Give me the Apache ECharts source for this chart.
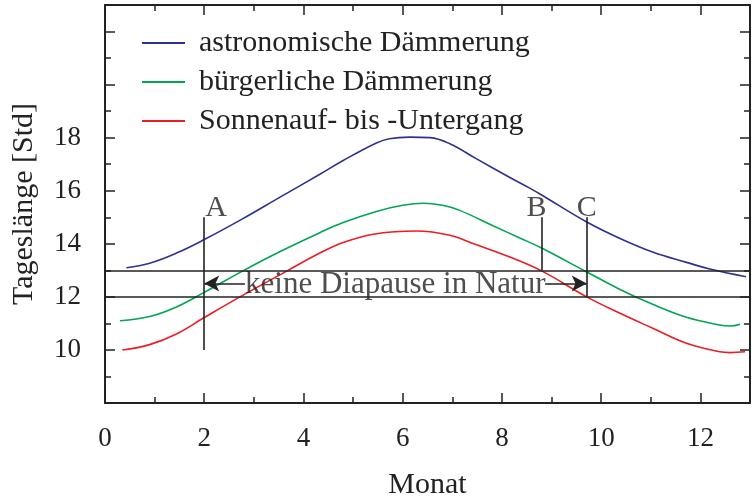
<!DOCTYPE html>
<html>
<head>
<meta charset="utf-8">
<script src="https://cdn.jsdelivr.net/npm/echarts@6/dist/echarts.min.js"></script>
<style>
  html, body { margin: 0; padding: 0; background: #fff; }
  #chart { width: 754px; height: 498px; }
</style>
</head>
<body>
<div id="chart"></div>
<script>
// Day length over the year: astronomical twilight, civil twilight, sunrise to sunset
const FONT = "'Liberation Serif', 'Times New Roman', serif";
const INK = '#222';

const seriesNames = ['astronomische Dämmerung', 'bürgerliche Dämmerung', 'Sonnenauf- bis -Untergang'];
const seriesColors = ['#2E3192', '#00A651', '#ED1C24'];

const astroMonth = [0.43, 0.9, 1.44, 2.0, 2.78, 3.52, 4.33, 4.8, 5.47, 5.73, 6.14, 6.55, 6.95, 7.49, 8.16, 8.56, 8.8, 9.71, 10.38, 11.05, 11.72, 12.19, 12.92];
const astroHours = [13.10, 13.27, 13.65, 14.16, 14.95, 15.75, 16.62, 17.14, 17.80, 17.96, 18.02, 18.00, 17.77, 17.20, 16.50, 16.10, 15.84, 14.82, 14.20, 13.68, 13.30, 13.05, 12.76];

const civilMonth = [0.3, 0.9, 1.44, 2.0, 2.78, 3.52, 4.33, 4.8, 5.47, 6.0, 6.41, 6.8, 7.15, 7.82, 8.36, 8.8, 9.71, 10.38, 11.05, 11.72, 12.39, 12.6, 12.8];
const civilHours = [11.10, 11.26, 11.62, 12.17, 12.98, 13.70, 14.42, 14.80, 15.22, 15.45, 15.53, 15.45, 15.26, 14.68, 14.22, 13.84, 12.94, 12.28, 11.71, 11.23, 10.94, 10.90, 10.97];

const sunMonth = [0.35, 0.9, 1.44, 2.0, 2.72, 3.69, 4.33, 4.8, 5.47, 6.28, 6.95, 7.49, 8.16, 8.8, 9.71, 10.38, 11.05, 11.72, 12.39, 12.6, 12.9];
const sunHours = [10.00, 10.20, 10.60, 11.22, 12.00, 13.00, 13.65, 14.05, 14.38, 14.48, 14.32, 13.96, 13.50, 12.98, 12.00, 11.38, 10.81, 10.25, 9.93, 9.90, 9.93];

// Critical day-length band and the marked points in the year
const thresholds = [12, 13];
const markerNames = ['A', 'B', 'C'];
const markerMonth = [2.0, 8.8, 9.71];
const markerLow = [10, 13, 12];
const markerHigh = 15;
const noteText = 'keine Diapause in Natur';
const noteAt = [5.85, 12.5];
const arrowLeft = [2.82, 2.0];
const arrowRight = [8.87, 9.71];

const zip = (xs, ys) => xs.map((x, i) => [x, ys[i]]);
const monthValues = [astroMonth, civilMonth, sunMonth];
const hourValues = [astroHours, civilHours, sunHours];

const lineSeries = seriesNames.map((name, i) => ({
  name: name,
  type: 'line',
  data: zip(monthValues[i], hourValues[i]),
  symbol: 'none',
  smooth: 0.4,
  color: seriesColors[i],
  lineStyle: { color: seriesColors[i], width: 1.6 },
  z: 3
}));

const blackLine = { color: INK, width: 1.6, type: 'solid' };
const markerAlign = ['left', 'right', 'center'];
const markerOffset = [[1, 6], [5, 6], [0, 6]];

const annotationSeries = {
  type: 'scatter',
  symbolSize: 1,
  itemStyle: { color: 'rgba(0,0,0,0)' },
  silent: true,
  z: 4,
  data: markerNames.map((n, i) => ({
    name: n,
    value: [markerMonth[i], markerHigh],
    label: {
      show: true, position: 'top', distance: 0,
      formatter: '{b}', align: markerAlign[i], offset: markerOffset[i],
      fontFamily: FONT, fontSize: 30, color: INK
    }
  })).concat([{
    name: noteText,
    value: noteAt,
    label: {
      show: true, position: 'inside', formatter: '{b}',
      align: 'center', verticalAlign: 'middle', offset: [0, 1],
      fontFamily: FONT, fontSize: 31, color: INK
    }
  }]),
  markLine: {
    silent: true,
    animation: false,
    symbol: 'none',
    label: { show: false },
    lineStyle: blackLine,
    data: thresholds.map(t => ({ yAxis: t, lineStyle: blackLine }))
      .concat(markerNames.map((n, i) => [
        { coord: [markerMonth[i], markerLow[i]], lineStyle: blackLine },
        { coord: [markerMonth[i], markerHigh] }
      ]))
      .concat([
        [{ coord: [arrowLeft[0], noteAt[1]], symbol: 'none', lineStyle: blackLine },
         { coord: [arrowLeft[1], noteAt[1]], symbol: 'arrow', symbolSize: [12, 15] }],
        [{ coord: [arrowRight[0], noteAt[1]], symbol: 'none', lineStyle: blackLine },
         { coord: [arrowRight[1], noteAt[1]], symbol: 'arrow', symbolSize: [12, 15] }]
      ])
  }
};

const tickLine = { color: INK, width: 1.5 };
const frameLine = { show: true, onZero: false, lineStyle: { color: INK, width: 2 } };
const noLine = { show: false, onZero: false };
const plotBox = { left: 105, right: 4, top: 5, bottom: 95, containLabel: false, outerBoundsMode: 'none' };

// Grid 0 carries the data, the frame and the unit ticks; grid 1 lies on top
// of it and only adds the longer ticks at every second unit.
function xAxisDef(grid, position, step, len) {
  const primary = grid === 0;
  const labelled = primary && position === 'bottom';
  return {
    gridIndex: grid, type: 'value', position: position, min: 0, max: 13, interval: step,
    axisLine: primary ? frameLine : noLine,
    axisTick: { show: true, inside: true, length: len, lineStyle: tickLine },
    axisLabel: labelled ? {
      show: true, margin: 22, fontFamily: FONT, fontSize: 27, color: INK,
      formatter: v => (v % 2 === 0 && v <= 12) ? String(v) : ''
    } : { show: false },
    splitLine: { show: false },
    name: labelled ? 'Monat' : '',
    nameLocation: 'middle', nameGap: 67,
    nameTextStyle: { fontFamily: FONT, fontSize: 30, color: INK }
  };
}

function yAxisDef(grid, position, step, len) {
  const primary = grid === 0;
  const labelled = primary && position === 'left';
  return {
    gridIndex: grid, type: 'value', position: position, min: 8, max: 23, interval: step,
    axisLine: primary ? frameLine : noLine,
    axisTick: { show: true, inside: true, length: len, lineStyle: tickLine },
    axisLabel: labelled ? {
      show: true, margin: 24, fontFamily: FONT, fontSize: 27, color: INK,
      formatter: v => (v % 2 === 0 && v >= 10 && v <= 18) ? String(v) : ''
    } : { show: false },
    splitLine: { show: false },
    name: labelled ? 'Tageslänge [Std]' : '',
    nameLocation: 'middle', nameGap: 66, nameRotate: 90,
    nameTextStyle: { fontFamily: FONT, fontSize: 30, color: INK }
  };
}

const chart = echarts.init(document.getElementById('chart'), null, { renderer: 'canvas' });
chart.setOption({
  animation: false,
  backgroundColor: '#fff',
  grid: [Object.assign({}, plotBox), Object.assign({}, plotBox)],
  xAxis: [
    xAxisDef(0, 'bottom', 1, 6),
    xAxisDef(0, 'top', 1, 6),
    xAxisDef(1, 'bottom', 2, 10),
    xAxisDef(1, 'top', 2, 10)
  ],
  yAxis: [
    yAxisDef(0, 'left', 1, 6),
    yAxisDef(0, 'right', 1, 6),
    yAxisDef(1, 'left', 2, 10),
    yAxisDef(1, 'right', 2, 10)
  ],
  legend: {
    data: seriesNames,
    orient: 'vertical',
    left: 137, top: 23,
    icon: 'rect',
    itemWidth: 43, itemHeight: 2, itemGap: 9,
    textStyle: { fontFamily: FONT, fontSize: 30, color: INK, lineHeight: 30, padding: [0, 0, 0, 9] }
  },
  series: lineSeries.concat([annotationSeries])
});
</script>
</body>
</html>
